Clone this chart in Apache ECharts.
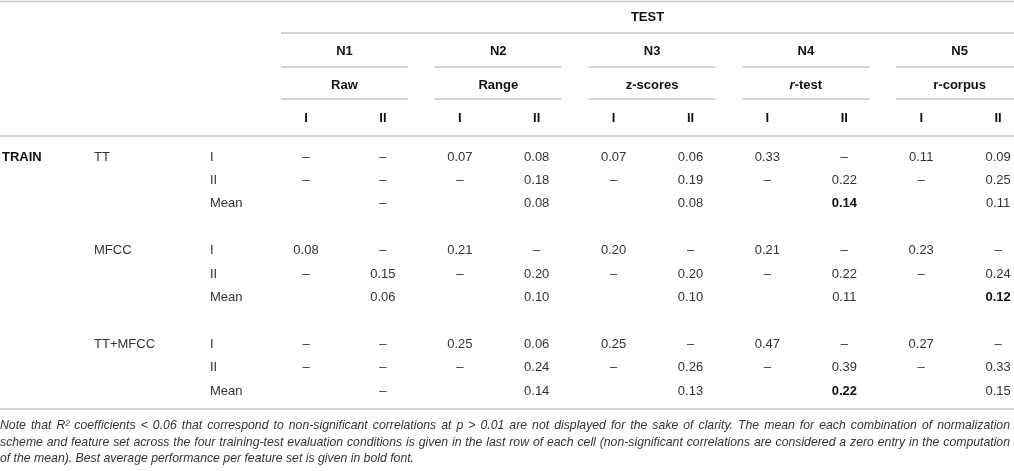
<!DOCTYPE html>
<html><head><meta charset="utf-8">
<script src="https://cdn.jsdelivr.net/npm/echarts@6/dist/echarts.min.js"></script>
<style>html,body{margin:0;padding:0;background:#fff}#c{width:1014px;height:471px}</style>
</head><body><div id="c"></div>
<script>
// ---------- data ----------
const groups = ['N1', 'N2', 'N3', 'N4', 'N5'];
const normalizations = ['Raw', 'Range', 'z-scores', '{it|r}-test', 'r-corpus'];
const conditions = ['I', 'II'];
const featureSets = ['TT', 'MFCC', 'TT+MFCC'];
const rowKinds = ['I', 'II', 'Mean'];
// null = "–" (non-significant correlation, not displayed)
const ttI      = [null, null, 0.07, 0.08, 0.07, 0.06, 0.33, null, 0.11, 0.09];
const ttII     = [null, null, null, 0.18, null, 0.19, null, 0.22, null, 0.25];
const ttMean   = [null, 0.08, 0.08, 0.14, 0.11];
const mfccI    = [0.08, null, 0.21, null, 0.20, null, 0.21, null, 0.23, null];
const mfccII   = [null, 0.15, null, 0.20, null, 0.20, null, 0.22, null, 0.24];
const mfccMean = [0.06, 0.10, 0.10, 0.11, 0.12];
const ttmfccI    = [null, null, 0.25, 0.06, 0.25, null, 0.47, null, 0.27, null];
const ttmfccII   = [null, null, null, 0.24, null, 0.26, null, 0.39, null, 0.33];
const ttmfccMean = [null, 0.14, 0.13, 0.22, 0.15];
const noteLines = [
  'Note that R\u00B2 coefficients < 0.06 that correspond to non-significant correlations at p > 0.01 are not displayed for the sake of clarity. The mean for each combination of normalization',
  'scheme and feature set across the four training-test evaluation conditions is given in the last row of each cell (non-significant correlations are considered a zero entry in the computation',
  'of the mean). Best average performance per feature set is given in bold font.'
];

// ---------- layout ----------
const W = 1014, H = 471;
const COL = 76.9, ROW = 23.4;       // px per data column / data row
const X0 = 306, Y0 = 157;          // first data column / first data row
const FONT = '"Liberation Sans", Arial, Helvetica, sans-serif';
const px2col = p => (p - X0) / COL;
const px2row = p => (p - Y0) / ROW;
const HEAD = { test: px2row(17), group: px2row(51), norm: px2row(85), cond: px2row(118) };
const RULE = { top: px2row(1.5), test: px2row(33), group: px2row(67), norm: px2row(99), head: px2row(136), bottom: px2row(409) };
const LBL = { train: px2col(2), set: px2col(94), kind: px2col(210) };

const tableRows = [
  [ttI, ttII, ttMean],
  [mfccI, mfccII, mfccMean],
  [ttmfccI, ttmfccII, ttmfccMean]
];

const cells = [];
const add = (x, y, text, opt) => cells.push(Object.assign({ x, y, text, bold: false, align: 'center', color: '#333' }, opt || {}));
const fmt = v => v == null ? '\u2013' : v.toFixed(2);

// header
add((px2col(281) + px2col(W)) / 2, HEAD.test, 'TEST', { bold: true, color: '#111' });
groups.forEach((g, i) => {
  add(2 * i + 0.5, HEAD.group, g, { bold: true, color: '#111' });
  add(2 * i + 0.5, HEAD.norm, normalizations[i], { bold: true, color: '#111' });
  conditions.forEach((c, k) => add(2 * i + k, HEAD.cond, c, { bold: true, color: '#111' }));
});
// body
add(LBL.train, 0, 'TRAIN', { bold: true, color: '#111', align: 'left' });
featureSets.forEach((fs, f) => {
  const base = f * 4;
  add(LBL.set, base, fs, { align: 'left' });
  rowKinds.forEach((k, r) => add(LBL.kind, base + r, k, { align: 'left' }));
  const [rI, rII, rMean] = tableRows[f];
  rI.forEach((v, j) => add(j, base, fmt(v)));
  rII.forEach((v, j) => add(j, base + 1, fmt(v)));
  const best = Math.max(...rMean.filter(v => v != null));
  rMean.forEach((v, g) => add(2 * g + 1, base + 2, fmt(v), v === best ? { bold: true, color: '#111' } : {}));
});

// rules [x1, x2, y]
const rules = [
  [px2col(0), px2col(W), RULE.top],
  [px2col(281), px2col(W), RULE.test],
  [px2col(0), px2col(W), RULE.head],
  [px2col(0), px2col(W), RULE.bottom]
];
groups.forEach((g, i) => {
  rules.push([2 * i - 0.325, Math.min(2 * i + 1.325, px2col(W)), RULE.group]);
  rules.push([2 * i - 0.325, Math.min(2 * i + 1.325, px2col(W)), RULE.norm]);
});

// justified note lines
const mctx = document.createElement('canvas').getContext('2d');
let noteSize = 12.5;
const noteFont = s => 'italic ' + s + 'px "Liberation Sans", Arial, sans-serif';
// shrink until the longest justified line still has normal-ish word gaps
while (noteSize > 9) {
  mctx.font = noteFont(noteSize);
  const ok = noteLines.slice(0, 2).every(l => mctx.measureText(l).width <= 1008);
  if (ok) break;
  noteSize -= 0.25;
}
const NOTE_FONT = noteFont(noteSize);
mctx.font = NOTE_FONT;
const noteY = [426, 442.5, 459];
const graphics = [];
noteLines.forEach((line, li) => {
  const justify = li < noteLines.length - 1;
  if (!justify) {
    graphics.push({ type: 'text', x: 0, y: noteY[li], silent: true,
      style: { text: line, font: NOTE_FONT, fill: '#333', textAlign: 'left', textVerticalAlign: 'middle', align: 'left', verticalAlign: 'middle' } });
    return;
  }
  const words = line.split(' ');
  const widths = words.map(w => mctx.measureText(w).width);
  const total = widths.reduce((a, b) => a + b, 0);
  const gap = (1010 - total) / (words.length - 1);
  let x = 0;
  words.forEach((w, k) => {
    graphics.push({ type: 'text', x: x, y: noteY[li], silent: true,
      style: { text: w, font: NOTE_FONT, fill: '#333', textAlign: 'left', textVerticalAlign: 'middle', align: 'left', verticalAlign: 'middle' } });
    x += widths[k] + gap;
  });
});

const chart = echarts.init(document.getElementById('c'), null, { renderer: 'canvas' });
chart.setOption({
  animation: false,
  backgroundColor: '#fff',
  grid: { left: 0, right: 0, top: 0, bottom: 0 },
  xAxis: { type: 'value', min: px2col(0), max: px2col(W), show: false },
  yAxis: { type: 'value', inverse: true, min: px2row(0), max: px2row(H), show: false },
  graphic: graphics,
  series: [
    {
      type: 'custom', name: 'rules', silent: true, clip: false,
      data: rules,
      renderItem: (params, api) => {
        const a = api.coord([api.value(0), api.value(2)]);
        const b = api.coord([api.value(1), api.value(2)]);
        return { type: 'line', shape: { x1: a[0], y1: a[1], x2: b[0], y2: b[1] },
          style: { stroke: '#c6c6c6', lineWidth: 1.6 } };
      }
    },
    {
      type: 'custom', name: 'cells', silent: true, clip: false,
      data: cells.map(c => [c.x, c.y]),
      renderItem: (params, api) => {
        const c = cells[params.dataIndex];
        const p = api.coord([api.value(0), api.value(1)]);
        return { type: 'text', x: p[0], y: p[1],
          style: {
            text: c.text, fontFamily: FONT, fontSize: 13, fontWeight: c.bold ? 'bold' : 'normal',
            fill: c.color, align: c.align, verticalAlign: 'middle', textAlign: c.align, textVerticalAlign: 'middle',
            rich: { it: { fontFamily: FONT, fontSize: 13, fontStyle: 'italic', fontWeight: 'bold', fill: c.color } }
          } };
      }
    }
  ]
});
</script>
</body></html>
